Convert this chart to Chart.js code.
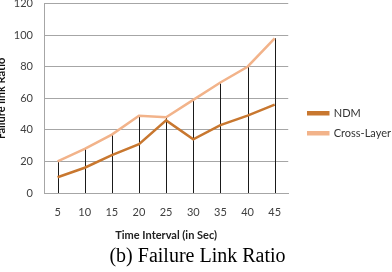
<!DOCTYPE html>
<html>
<head>
<meta charset="utf-8">
<script src="https://cdn.jsdelivr.net/npm/chart.js@4.4.0/dist/chart.umd.min.js"></script>
<style>
  body { margin: 0; background: #fff; }
  #wrap { position: relative; width: 392px; height: 272px; overflow: hidden; }
  #chart { position: absolute; left: -6px; top: -14px; }
</style>
</head>
<body>
<div id="wrap"><canvas id="chart" width="407" height="286"></canvas></div>
<script>
// Chart data
const timeLabels = ['5', '10', '15', '20', '25', '30', '35', '40', '45'];
const ndmValues = [10, 16, 24, 31, 46, 34, 43, 49, 56];
const crossLayerValues = [20, 28, 37, 49, 48, 59, 70, 80, 98];
const yTicks = [0, 20, 40, 60, 80, 100, 120];

// Draws the black drop lines from the top series down to the x axis
const dropLines = {
    id: 'dropLines',
    beforeDatasetsDraw(chart) {
        const ctx = chart.ctx;
        const x = chart.scales.x;
        const y = chart.scales.y;
        ctx.save();
        ctx.strokeStyle = '#1a1a1a';
        ctx.lineWidth = 1;
        timeLabels.forEach((lab, i) => {
            const top = Math.max(ndmValues[i], crossLayerValues[i]);
            const px = Math.round(x.getPixelForValue(i)) + 0.5;
            ctx.beginPath();
            ctx.moveTo(px, y.getPixelForValue(top));
            ctx.lineTo(px, y.getPixelForValue(0));
            ctx.stroke();
        });
        ctx.restore();
    }
};

const tickFont = { family: 'Lato', size: 11 };

new Chart(document.getElementById('chart'), {
    type: 'line',
    data: {
        labels: timeLabels,
        datasets: [
            {
                label: 'NDM',
                data: ndmValues,
                borderColor: '#c8772f',
                backgroundColor: '#c8772f',
                borderWidth: 2.5,
                pointRadius: 0,
                tension: 0
            },
            {
                label: 'Cross-Layer',
                data: crossLayerValues,
                borderColor: '#f2b38a',
                backgroundColor: '#f2b38a',
                borderWidth: 2.5,
                pointRadius: 0,
                tension: 0
            }
        ]
    },
    options: {
        responsive: false,
        animation: false,
        devicePixelRatio: 1,
        layout: { padding: { top: 0, left: 0, right: 0, bottom: 0 } },
        scales: {
            x: {
                offset: true,
                grid: { display: false, drawTicks: false },
                border: { display: true, color: '#a6a6a6' },
                ticks: { font: tickFont, color: '#404040', padding: 13 },
                title: {
                    display: true,
                    text: 'Time Interval (in Sec)',
                    font: { family: 'Lato', size: 11, weight: 'bold' },
                    color: '#222',
                    padding: { top: 4, bottom: 3 }
                },
                afterFit(scale) { scale.height = 52; }
            },
            y: {
                min: 0,
                max: 120,
                afterBuildTicks(scale) {
                    scale.ticks = yTicks.map(v => ({ value: v }));
                },
                grid: { color: '#a6a6a6', drawTicks: false },
                border: { display: true, color: '#a6a6a6' },
                ticks: { font: tickFont, color: '#404040', padding: 11 },
                title: {
                    display: true,
                    text: 'Failure link Ratio',
                    font: { family: 'Lato', size: 11, weight: 'bold' },
                    color: '#111',
                    padding: { top: 1, bottom: 4 }
                },
                afterFit(scale) { scale.width = 50; }
            },
            gap: {
                type: 'linear',
                position: 'right',
                display: true,
                grid: { display: false },
                border: { display: false },
                ticks: { display: false },
                afterFit(scale) { scale.width = 11; }
            }
        },
        plugins: {
            legend: {
                position: 'right',
                align: 'start',
                fullSize: false,
                maxWidth: 110,
                title: { display: true, text: ' ', font: { size: 1 }, padding: { top: 94, bottom: 0 } },
                labels: {
                    boxWidth: 20,
                    boxHeight: 2,
                    padding: 9,
                    font: { family: 'Lato', size: 11 },
                    color: '#333'
                }
            },
            title: {
                display: true,
                position: 'bottom',
                text: '(b) Failure Link Ratio',
                font: { family: 'Liberation Serif', size: 20, weight: 'normal' },
                color: '#000',
                padding: { top: 0, bottom: 3 }
            },
            tooltip: { enabled: false }
        }
    },
    plugins: [dropLines]
});
</script>
</body>
</html>
